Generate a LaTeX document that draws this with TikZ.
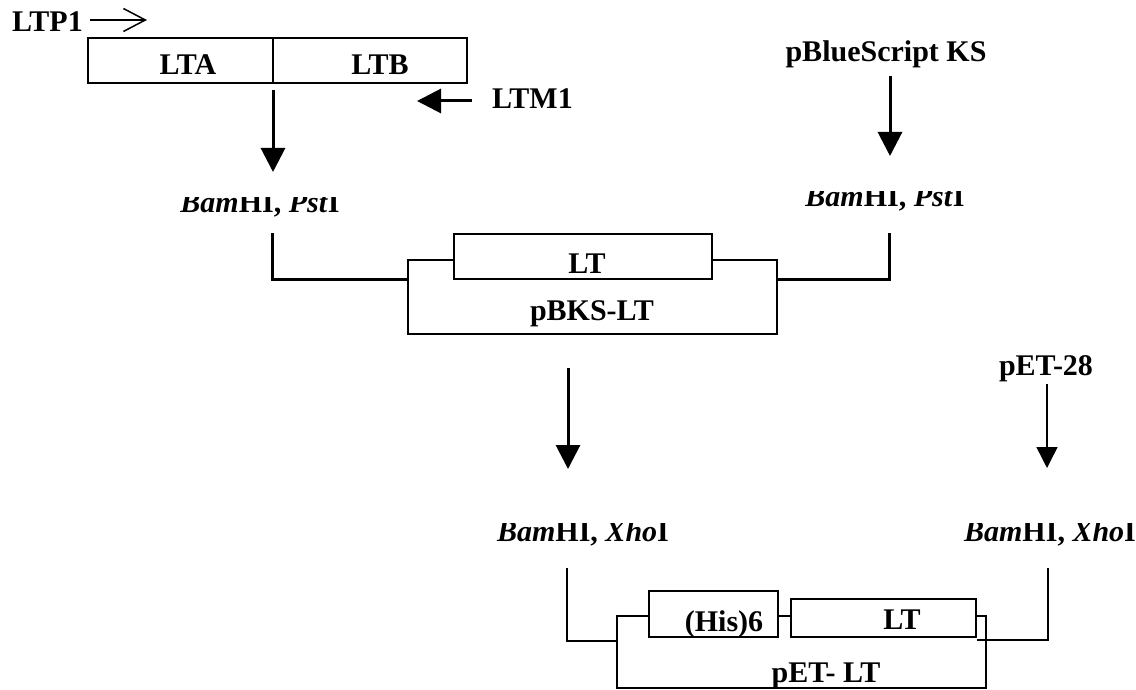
\documentclass[tikz,border=0pt]{standalone}
\usepackage{fontspec}
\setmainfont{Liberation Serif}
\usetikzlibrary{arrows.meta}
\begin{document}
\begin{tikzpicture}[x=1pt,y=-1pt,
  lbl/.style={font=\fontsize{30}{36}\selectfont\bfseries, inner sep=0pt, anchor=base},
  box/.style={draw, line width=1.5pt, fill=white, inner sep=0pt},
  thinln/.style={line width=1.5pt},
  thickln/.style={line width=3pt},
  bigtip/.style={-{Triangle[length=24pt,width=24pt]}},
  smalltip/.style={-{Triangle[length=21pt,width=21pt]}},
  barbtip/.style={-{Straight Barb[length=22pt,width=23pt,line width=1.5pt]}}
]
\useasboundingbox (0,0) rectangle (1136,690);

% ---------- top construct ----------
\node[box, minimum width=185pt, minimum height=45pt] (lta) at (180.5,60.5) {};
\node[box, minimum width=194pt, minimum height=45pt] (ltb) at (370,60.5) {};
\node[lbl] (ltaT) at (188,75) {LTA};
\node[lbl] (ltbT) at (380,75) {LTB};
\node[lbl, anchor=base west] (ltp1) at (12,32) {LTP1};
\coordinate (p1a) at (90,20);
\coordinate (p1b) at (147,20);
\draw[thinln, barbtip] (p1a) -- (p1b);
\node[lbl, anchor=base west] (ltm1) at (492,109) {LTM1};
\coordinate (m1a) at (472,101);
\coordinate (m1b) at (417,101);
\draw[thickln, bigtip] (m1a) -- (m1b);

\coordinate (a1s) at (273,90);
\coordinate (a1e) at (273,172);
\draw[thickln, bigtip] (a1s) -- (a1e);

\begin{scope}
  \clip (150,198) rectangle (380,225);
  \node[lbl] (bam1) at (260,213) {\textit{Bam}HI, \textit{Pst}I};
\end{scope}

% ---------- pBlueScript ----------
\node[lbl] (pbs) at (886,62) {pBlueScript KS};
\coordinate (a2s) at (890,76);
\coordinate (a2e) at (890,156);
\draw[thickln, bigtip] (a2s) -- (a2e);
\begin{scope}
  \clip (780,192) rectangle (1000,220);
  \node[lbl] (bam2) at (885,207) {\textit{Bam}HI, \textit{Pst}I};
\end{scope}

% ---------- pBKS-LT ----------
\node[box, minimum width=369pt, minimum height=74pt] (pbks) at (592.5,297) {};
\node[box, minimum width=258pt, minimum height=45pt] (lt1) at (583,256.5) {};
\node[lbl] (lt1T) at (587,273) {LT};
\node[lbl] (pbksT) at (592,320) {pBKS-LT};
\coordinate (b1) at (272,233);
\draw[thickln] (b1) |- (pbks.west |- lt1.south);
\coordinate (b2) at (889,233);
\draw[thickln] (pbks.east |- lt1.south) -| (b2);

% ---------- middle arrow ----------
\coordinate (a3s) at (568,368);
\coordinate (a3e) at (568,469);
\draw[thickln, bigtip] (a3s) -- (a3e);

% ---------- pET-28 ----------
\node[lbl] (pet28) at (1046,375) {pET-28};
\coordinate (a4s) at (1047,384);
\coordinate (a4e) at (1047,468);
\draw[thinln, smalltip] (a4s) -- (a4e);

\begin{scope}
  \clip (480,523) rectangle (690,550);
  \node[lbl] (bam3) at (583,541) {\textit{Bam}HI, \textit{Xho}I};
\end{scope}
\begin{scope}
  \clip (950,523) rectangle (1136,550);
  \node[lbl] (bam4) at (1050,541) {\textit{Bam}HI, \textit{Xho}I};
\end{scope}

% ---------- pET-LT ----------
\node[box, minimum width=369pt, minimum height=72pt] (pet) at (801.5,652) {};
\node[box, minimum width=129pt, minimum height=46pt] (his) at (713.5,614) {};
\node[box, minimum width=185pt, minimum height=38pt] (lt2) at (883.5,618) {};
\node[lbl] (hisT) at (724,631) {(His)6};
\node[lbl] (lt2T) at (902,629) {LT};
\node[lbl] (petT) at (826,682) {pET- LT};
\coordinate (b3) at (567,568);
\draw[thinln] (b3) |- ([yshift=-3pt]his.south -| pet.west);
\coordinate (b4) at (1048,568);
\draw[thinln] ([yshift=-2pt]lt2.south east) -| (b4);
\end{tikzpicture}
\end{document}
